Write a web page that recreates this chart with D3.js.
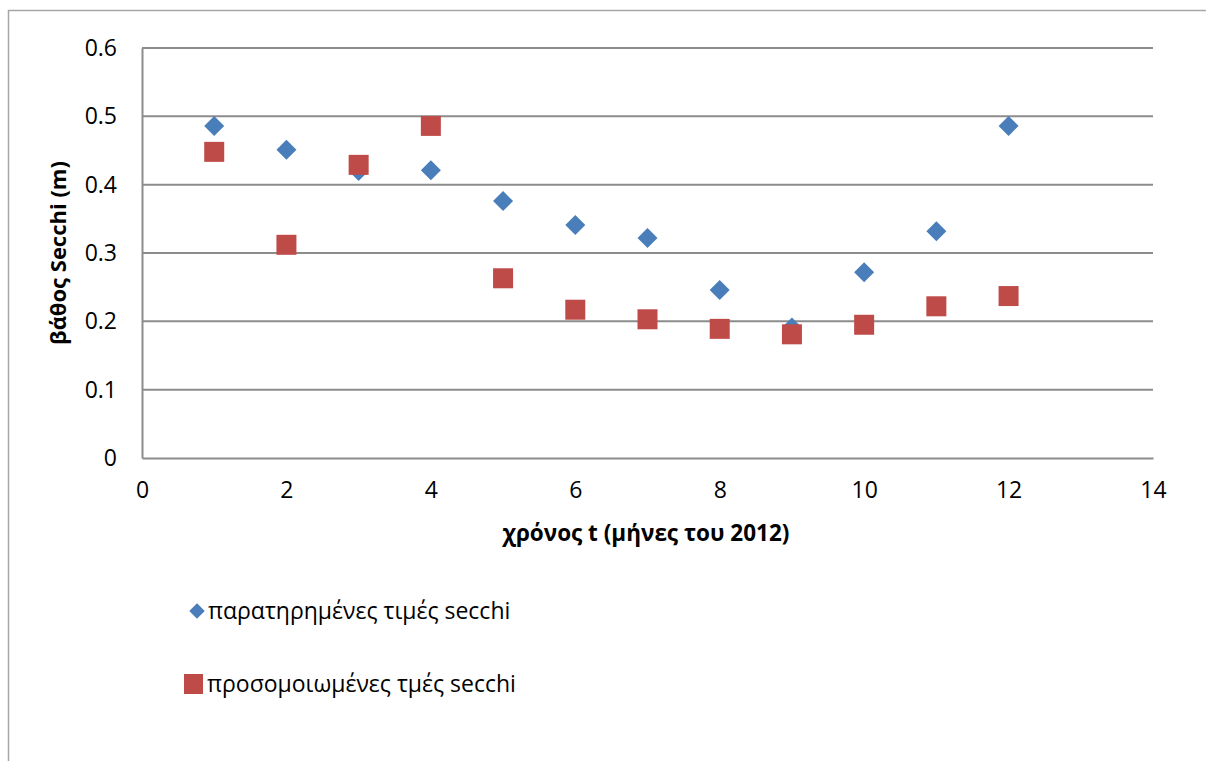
<!DOCTYPE html>
<html><head><meta charset="utf-8">
<script src="https://cdn.jsdelivr.net/npm/d3@7"></script>
<style>body{margin:0;background:#fff}svg{display:block}text{font-family:"Open Sans","Noto Sans",sans-serif;fill:#000}</style>
</head><body><svg id="c" width="1206" height="761"></svg>
<script>
const months = [1,2,3,4,5,6,7,8,9,10,11,12];
const observed = [0.486,0.451,0.420,0.421,0.376,0.341,0.322,0.246,0.191,0.272,0.332,0.486];
const simulated = [0.448,0.312,0.429,0.486,0.263,0.217,0.203,0.189,0.181,0.195,0.222,0.237];
const xTicks = [0,2,4,6,8,10,12,14];
const yTicks = [0,0.1,0.2,0.3,0.4,0.5,0.6];
const seriesNames = ["παρατηρημένες τιμές secchi","προσομοιωμένες τμές secchi"];
const colors = ["#4a7ebb","#be4b48"];

const svg = d3.select("#c");
// outer frame
svg.append("path").attr("d","M8.5,761 V10.5 H1206").attr("fill","none").attr("stroke","#a6a6a6").attr("stroke-width",1.5);

const x = d3.scaleLinear().domain([0,14]).range([142,1153]);
const y = d3.scaleLinear().domain([0,0.6]).range([458,48]);

// gridlines
svg.append("g").selectAll("line").data(yTicks.slice(1)).join("line")
  .attr("x1",x(0)).attr("x2",x(14)).attr("y1",d=>y(d)).attr("y2",d=>y(d))
  .attr("stroke","#8c8c8c").attr("stroke-width",2);

// axes
const yAxis = svg.append("g").attr("transform",`translate(${x(0)},0)`)
  .call(d3.axisLeft(y).tickValues(yTicks).tickSize(0).tickPadding(25).tickFormat(d=>d===0?"0":d3.format(".1f")(d)));
yAxis.select(".domain").attr("stroke","#8c8c8c").attr("stroke-width",2);
yAxis.selectAll("text").attr("font-size",23).attr("font-family","Open Sans");

const xAxis = svg.append("g").attr("transform",`translate(0,${y(0)})`)
  .call(d3.axisBottom(x).tickValues(xTicks).tickSize(0).tickPadding(24).tickFormat(d3.format("d")));
xAxis.select(".domain").attr("stroke","#8c8c8c").attr("stroke-width",2);
xAxis.selectAll("text").attr("font-size",23).attr("font-family","Open Sans");

// axis titles
svg.append("text").attr("transform","translate(66,253) rotate(-90)").attr("text-anchor","middle")
  .attr("font-size",22).attr("font-weight","bold").text("βάθος Secchi (m)");
svg.append("text").attr("x",646).attr("y",541).attr("text-anchor","middle")
  .attr("font-size",22.5).attr("font-weight","bold").text("χρόνος t (μήνες του 2012)");

const diamond = d3.symbol().type(d3.symbolSquare).size(200);
// observed diamonds
svg.append("g").selectAll("path").data(months).join("path")
  .attr("d",diamond).attr("fill",colors[0])
  .attr("transform",(d,i)=>`translate(${x(d)},${y(observed[i])}) rotate(45)`);
// simulated squares
svg.append("g").selectAll("rect").data(months).join("rect")
  .attr("x",d=>x(d)-10).attr("y",(d,i)=>y(simulated[i])-10).attr("width",20).attr("height",20)
  .attr("fill",colors[1]);

// legend
const lg = svg.append("g");
lg.append("path").attr("d",d3.symbol().type(d3.symbolSquare).size(120)).attr("fill",colors[0])
  .attr("transform","translate(197,611) rotate(45)");
lg.append("text").attr("x",208).attr("y",619).attr("font-size",23).text(seriesNames[0]);
lg.append("rect").attr("x",184).attr("y",674).attr("width",19).attr("height",20).attr("fill",colors[1]);
lg.append("text").attr("x",207).attr("y",692).attr("font-size",23).text(seriesNames[1]);
</script></body></html>
